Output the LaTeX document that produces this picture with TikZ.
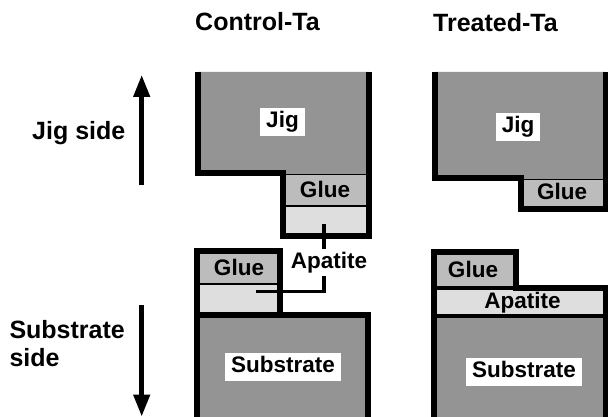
\documentclass[tikz,border=0pt]{standalone}
\usepackage{fontspec}
\setmainfont{Liberation Sans}
\usetikzlibrary{arrows.meta}
\definecolor{jiggray}{RGB}{148,148,148}
\definecolor{gluegray}{RGB}{188,188,188}
\definecolor{apagray}{RGB}{222,222,222}
\begin{document}
\begin{tikzpicture}[x=1pt,y=-1pt,
  outline/.style={line width=6pt,line join=miter},
  sepline/.style={line width=2.5pt},
  thinsep/.style={line width=0.8pt},
  lbl/.style={font=\fontsize{22.5}{25}\selectfont\bfseries,inner sep=0pt,anchor=base},
  big/.style={font=\fontsize{25}{29}\selectfont\bfseries,inner sep=0pt,anchor=base west},
  wbox/.style={fill=white,font=\fontsize{22.5}{25}\selectfont\bfseries,inner xsep=6pt,inner ysep=3.5pt,text height=16.5pt,text depth=5pt},
  arr/.style={line width=4.5pt,-{Triangle[width=16pt,length=22pt]}},
  leader/.style={line width=3.5pt,line join=miter}]
\useasboundingbox (0,0) rectangle (608,417);

% ---------- Control-Ta, jig side ----------
\fill[jiggray] (198,72) -- (198,173) -- (283,173) -- (283,235.5) -- (369,235.5) -- (369,72) -- cycle;
\fill[gluegray] (283,174) rectangle (369,206);
\fill[apagray] (283,206) rectangle (369,235.5);
\draw[thinsep] (283,174) -- (369,174);
\draw[sepline] (283,206) -- (369,206);
\draw[outline] (198,72) -- (198,173) -- (283,173) -- (283,235.5) -- (369,235.5) -- (369,72);

% ---------- Control-Ta, substrate side ----------
\fill[gluegray] (197,251) rectangle (280,284);
\fill[apagray] (197,284) rectangle (280,315);
\fill[jiggray] (197,315) rectangle (368,422);
\draw[sepline] (197,284) -- (280,284);
\draw[line width=5.5pt] (197,315) -- (280,315);
\draw[outline] (197,422) -- (197,251) -- (280,251) -- (280,315) -- (368,315) -- (368,422);

% ---------- Treated-Ta, jig side ----------
\fill[jiggray] (435,72) -- (435,178) -- (520.5,178) -- (520.5,209) -- (606,209) -- (606,72) -- cycle;
\fill[gluegray] (520.5,179) rectangle (606,209);
\draw[thinsep] (520.5,179) -- (606,179);
\draw[outline] (435,72) -- (435,178) -- (520.5,178) -- (520.5,209) -- (606,209) -- (606,72);

% ---------- Treated-Ta, substrate side ----------
\fill[gluegray] (434,252) rectangle (516,288);
\fill[apagray] (434,288) rectangle (606,316);
\fill[jiggray] (434,316) rectangle (606,422);
\draw[line width=3.5pt] (434,288) -- (516,288);
\draw[line width=4.5pt] (434,316) -- (606,316);
\draw[outline] (434,422) -- (434,252) -- (516,252) -- (516,288) -- (606,288) -- (606,422);

% ---------- titles and side labels ----------
\node[big] (tctrl) at (195,31) {Control-Ta};
\node[big] (ttreat) at (433,31.5) {Treated-Ta};
\node[big] (jigside) at (32,139.3) {Jig side};
\node[big] (subside1) at (9.3,338) {Substrate};
\node[big] (subside2) at (9.3,366.7) {side};

% ---------- arrows ----------
\coordinate (upS) at (141.7,185);
\coordinate (upE) at (141.7,75);
\coordinate (dnS) at (141.7,305);
\coordinate (dnE) at (141.7,416.5);
\draw[arr] (upS) -- (upE);
\draw[arr] (dnS) -- (dnE);

% ---------- inner labels ----------
\node[wbox] (jigC) at (282.5,122) {Jig};
\node[wbox] (jigT) at (518,127) {Jig};
\node[wbox] (subC) at (283,367) {Substrate};
\node[wbox] (subT) at (524,372) {Substrate};
\node[lbl] (glueCu) at (325,197) {Glue};
\node[lbl] (glueCl) at (239,275) {Glue};
\node[lbl] (glueTu) at (562,199.3) {Glue};
\node[lbl] (glueTl) at (473,277.3) {Glue};
\node[lbl] (apaT) at (522.5,308.3) {Apatite};
\node[lbl,inner ysep=3pt] (apaC) at (329,268.3) {Apatite};

% ---------- apatite leader (control) ----------
\coordinate (apU) at (324,224);
\coordinate (apL) at (256,291.5);
\draw[leader] (apU) -- (apU |- apaC.north);
\draw[leader] (apU |- apaC.south) -- (apU |- apL) -- (apL);
\end{tikzpicture}
\end{document}
